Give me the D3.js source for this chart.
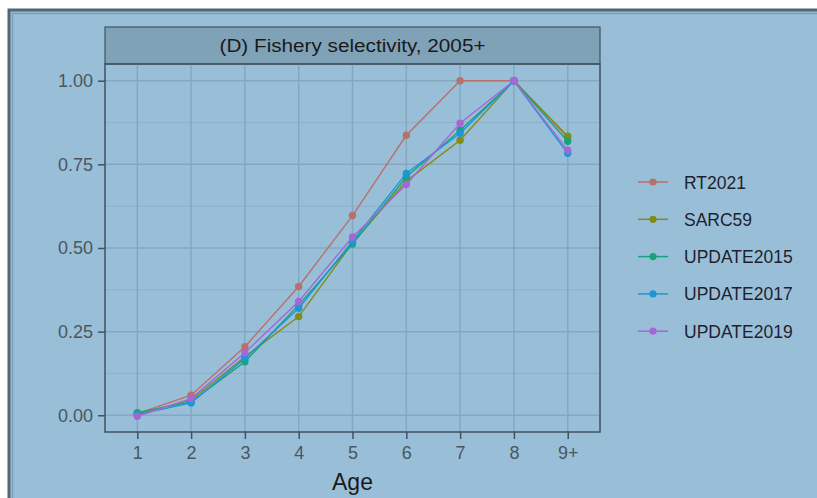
<!DOCTYPE html>
<html>
<head>
<meta charset="utf-8">
<script src="https://cdn.jsdelivr.net/npm/d3@7"></script>
<style>
  html, body { margin: 0; background: #ffffff; overflow: hidden; }
  svg { display: block; font-family: "Liberation Sans", Arial, sans-serif; }
</style>
</head>
<body>
<div id="chart"></div>
<script>
var width = 817, height = 498;

// data
var ages = ["1", "2", "3", "4", "5", "6", "7", "8", "9+"];
var runs = ["RT2021", "SARC59", "UPDATE2015", "UPDATE2017", "UPDATE2019"];
var RT2021     = [0.005, 0.060, 0.205, 0.385, 0.597, 0.837, 1.000, 1.000, 0.830];
var SARC59     = [0.004, 0.045, 0.175, 0.295, 0.515, 0.700, 0.822, 1.000, 0.834];
var UPDATE2015 = [0.008, 0.040, 0.160, 0.330, 0.512, 0.712, 0.852, 1.000, 0.819];
var UPDATE2017 = [0.002, 0.037, 0.170, 0.320, 0.520, 0.723, 0.843, 1.000, 0.783];
var UPDATE2019 = [-0.003, 0.050, 0.187, 0.340, 0.533, 0.690, 0.873, 1.000, 0.792];
var yTicks = [0, 0.25, 0.5, 0.75, 1];
var colors = ["#b8706a", "#7f8c17", "#19a37b", "#1b97d6", "#a567d8"];

var seriesVals = [RT2021, SARC59, UPDATE2015, UPDATE2017, UPDATE2019];
var series = runs.map((r, i) => ({
  name: r,
  color: colors[i],
  values: ages.map((a, j) => ({age: a, v: seriesVals[i][j]}))
}));

var svg = d3.select("#chart").append("svg")
  .attr("width", width).attr("height", height);

// outer frame (runs off the right and bottom edges)
svg.append("rect").attr("x", 9).attr("y", 10).attr("width", width + 20).attr("height", height + 20)
  .attr("fill", "#99bfd8").attr("stroke", "#4e6878").attr("stroke-width", 3);
svg.append("rect").attr("x", 12.5).attr("y", 13.5).attr("width", width + 20).attr("height", height + 20)
  .attr("fill", "none").attr("stroke", "#7d9fb4").attr("stroke-width", 1.5);

var panel = {left: 105, right: 600, top: 64, bottom: 432};

var x = d3.scalePoint().domain(ages)
  .range([panel.left, panel.right]).padding(0.6);
var y = d3.scaleLinear().domain([-0.05, 1.05])
  .range([panel.bottom, panel.top]);

// strip
svg.append("rect").attr("x", panel.left).attr("y", 27)
  .attr("width", panel.right - panel.left).attr("height", panel.top - 27)
  .attr("fill", "#7fa2b7").attr("stroke", "#3f5361").attr("stroke-width", 1.2);
svg.append("text").attr("x", (panel.left + panel.right) / 2 - 133).attr("y", 52)
  .attr("font-size", 18).attr("fill", "#1a1a1a")
  .attr("textLength", 266).attr("lengthAdjust", "spacingAndGlyphs")
  .text("(D) Fishery selectivity, 2005+");

// grid
var g = svg.append("g");
var minor = [-0.125, 0.125, 0.375, 0.625, 0.875].filter(d => y(d) < panel.bottom && y(d) > panel.top);
g.selectAll(".minor").data(minor).enter().append("line")
  .attr("x1", panel.left).attr("x2", panel.right)
  .attr("y1", d => y(d)).attr("y2", d => y(d))
  .attr("stroke", "#8cb1c9").attr("stroke-width", 1);
g.selectAll(".hy").data(yTicks).enter().append("line")
  .attr("x1", panel.left).attr("x2", panel.right)
  .attr("y1", d => y(d)).attr("y2", d => y(d))
  .attr("stroke", "#84a8c0").attr("stroke-width", 1.5);
g.selectAll(".vx").data(ages).enter().append("line")
  .attr("y1", panel.top).attr("y2", panel.bottom)
  .attr("x1", d => x(d)).attr("x2", d => x(d))
  .attr("stroke", "#84a8c0").attr("stroke-width", 1.5);

// lines and points
var line = d3.line().x(d => x(d.age)).y(d => y(d.v));
var sg = svg.selectAll(".series").data(series).enter().append("g");
sg.append("path").attr("d", d => line(d.values))
  .attr("fill", "none").attr("stroke", d => d.color).attr("stroke-width", 1.4);
sg.each(function (s) {
  d3.select(this).selectAll("circle").data(s.values).enter().append("circle")
    .attr("cx", d => x(d.age)).attr("cy", d => y(d.v)).attr("r", 3.7)
    .attr("fill", s.color);
});

// panel border
svg.append("rect").attr("x", panel.left).attr("y", panel.top)
  .attr("width", panel.right - panel.left).attr("height", panel.bottom - panel.top)
  .attr("fill", "none").attr("stroke", "#3f5361").attr("stroke-width", 1.5);

// axes
var yAxis = svg.append("g").attr("transform", "translate(" + panel.left + ",0)")
  .call(d3.axisLeft(y).tickValues(yTicks).tickFormat(d3.format(".2f")).tickSize(7).tickPadding(5));
var xAxis = svg.append("g").attr("transform", "translate(0," + panel.bottom + ")")
  .call(d3.axisBottom(x).tickSize(7).tickPadding(7));
[yAxis, xAxis].forEach(a => {
  a.attr("font-size", 18).attr("font-family", "Liberation Sans, Arial, sans-serif");
  a.select(".domain").remove();
  a.selectAll(".tick line").attr("stroke", "#3f5361").attr("stroke-width", 1.5);
  a.selectAll(".tick text").attr("fill", "#4a5660");
});

svg.append("text").attr("x", (panel.left + panel.right) / 2).attr("y", 490)
  .attr("text-anchor", "middle").attr("font-size", 23).attr("fill", "#1a1a1a")
  .text("Age");

// legend
var leg = svg.append("g").attr("transform", "translate(638,182)");
var li = leg.selectAll("g").data(series).enter().append("g")
  .attr("transform", (d, i) => "translate(0," + (i * 37.3) + ")");
li.append("line").attr("x1", 0).attr("x2", 30)
  .attr("stroke", d => d.color).attr("stroke-width", 1.5);
li.append("circle").attr("cx", 15).attr("r", 3.6).attr("fill", d => d.color);
li.append("text").attr("x", 46).attr("y", 6.5).attr("font-size", 17.5)
  .attr("fill", "#1f1f2e").text(d => d.name);
</script>
</body>
</html>
